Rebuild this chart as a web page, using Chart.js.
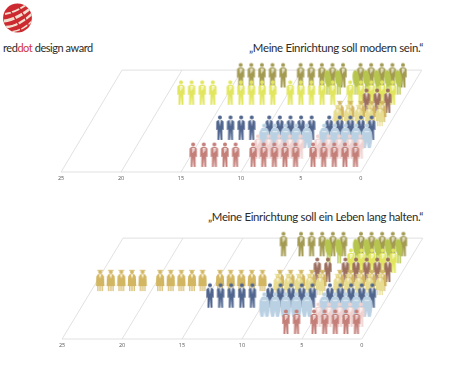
<!DOCTYPE html>
<html lang="de">
<head>
<meta charset="utf-8">
<title>reddot design award</title>
<script src="https://cdn.jsdelivr.net/npm/chart.js@4"></script>
<style>
  html, body { margin: 0; padding: 0; background: #fff; overflow: hidden; }
  body { width: 450px; height: 373px; position: relative; font-family: Lato, sans-serif; }
  canvas { position: absolute; }
  #modern { left: 0; top: 0; }
  #halten { left: 1px; top: 190px; }
  .title { position: absolute; right: 27px; color: #2b2b2b; font-size: 11.4px; letter-spacing: -0.31px; white-space: nowrap; }
  #brand { position: absolute; left: 3px; top: 41px; color: #2b2b2b; font-size: 11px; letter-spacing: -0.45px; white-space: nowrap; }
  #brand span { color: #d5323a; }
  #logo { position: absolute; left: 3px; top: 3px; }
</style>
</head>
<body>
<svg id="logo" width="30" height="30" viewBox="0 0 30 30">
  <defs><clipPath id="ball"><circle cx="14.5" cy="15" r="14.4"/></clipPath></defs>
  <circle cx="14.5" cy="15" r="14.4" fill="#cc2a30"/>
  <g clip-path="url(#ball)" fill="none" stroke="#f0dfcf" stroke-width="2">
    <path d="M2 11 C9 10 17 6 23 2"/>
    <path d="M1 18 C10 17 21 11 28 5" stroke-width="2.8"/>
    <path d="M3 24 C11 24 22 18 30 10" stroke-width="2.4"/>
    <path d="M8 29 C15 28 24 24 30 17" stroke-width="1.6"/>
    <path d="M5 4 C9 10 16 20 19 30" stroke="#cc2a30" stroke-width="1.4"/>
    <path d="M14 1 C18 8 24 16 26 25" stroke="#cc2a30" stroke-width="1.4"/>
  </g>
</svg>
<div id="brand">red<span>dot</span> design award</div>
<div class="title" style="top:41px">„Meine Einrichtung soll modern sein.“</div>
<div class="title" style="top:210px">„Meine Einrichtung soll ein Leben lang halten.“</div>
<canvas id="modern" width="450" height="186"></canvas>
<canvas id="halten" width="450" height="163"></canvas>
<script>
// rows run front to back, Chart.js paints the first dataset last
const rows = ['rot', 'rosa', 'hellblau', 'blau', 'hellgelb', 'gold', 'braun', 'gelb', 'gruen', 'oliv'];
const modernCounts = [15, 10, 10, 14, 5, 5, 3, 19, 7, 15];
const haltenCounts = [7, 5, 10, 15, 10, 25, 7, 5, 7, 11];
const modernDepth = [0.05, 0.13, 0.235, 0.315, 0.45, 0.49, 0.58, 0.66, 0.76, 0.83];
const haltenDepth = [0.05, 0.12, 0.22, 0.31, 0.435, 0.475, 0.565, 0.655, 0.75, 0.82];
const tickLabels = [0, 5, 10, 15, 20, 25];

const rowColors = ['#c47f79', '#f0d3d1', '#bad1e3', '#51668f', '#e7dc90', '#d2b662', '#9c6f5f', '#e2e65e', '#b6c54d', '#a49b52'];
const rowShapes = ['slim', 'slim', 'wide', 'suit', 'dress', 'dress', 'suit', 'slim', 'blob', 'slim'];

const SKEW = 5.08;      // floor shift in x units from front to back
const PER_GROUP = 5;
const FIGURE_STEP = 0.885;
const EDGE_GAP = 0.7;

function poly(c, pts) {
  c.beginPath();
  pts.forEach((p, i) => i ? c.lineTo(p[0], p[1]) : c.moveTo(p[0], p[1]));
  c.closePath();
  c.fill();
}

// the canvas is twice the figure height, so the feet sit on the data point
function figure(shape, color) {
  const cv = document.createElement('canvas');
  cv.width = 16;
  cv.height = 52;
  const c = cv.getContext('2d');
  const x = 8, t = 1;
  c.fillStyle = color;
  if (shape === 'dress') {
    c.beginPath(); c.arc(x, t + 6, 1.9, 0, 7); c.fill();
    c.fillRect(x - 2.8, t + 3.8, 5.6, 1);
    poly(c, [[x - 2.2, t + 8], [x + 2.2, t + 8], [x + 3.8, t + 10.5], [x + 4.3, t + 20], [x - 4.3, t + 20], [x - 3.8, t + 10.5]]);
    c.fillRect(x - 2.8, t + 20, 1.2, 5);
    c.fillRect(x - 0.6, t + 20, 1.2, 5);
    c.fillRect(x + 1.6, t + 20, 1.2, 5);
    c.fillStyle = '#f7f0d6';
    poly(c, [[x - 1.4, t + 8.3], [x + 1.4, t + 8.3], [x, t + 12.5]]);
  } else if (shape === 'wide') {
    c.beginPath(); c.arc(x, t + 2.6, 2.2, 0, 7); c.fill();
    poly(c, [[x - 2.8, t + 5], [x + 2.8, t + 5], [x + 5, t + 9], [x + 5.3, t + 18], [x + 4, t + 25], [x + 0.9, t + 25], [x, t + 19], [x - 0.9, t + 25], [x - 4, t + 25], [x - 5.3, t + 18], [x - 5, t + 9]]);
    c.fillStyle = 'rgba(255,255,255,0.55)';
    c.fillRect(x - 2.4, t + 8, 4.8, 1.2);
  } else if (shape === 'blob') {
    c.beginPath(); c.ellipse(x - 0.3, t + 9, 3.4, 8.5, -0.12, 0, 7); c.fill();
    c.fillRect(x - 1.8, t + 15, 1.4, 10);
    c.fillRect(x + 0.5, t + 15, 1.4, 10);
  } else {
    c.beginPath(); c.arc(x, t + 2.4, 2, 0, 7); c.fill();
    poly(c, [[x - 1.8, t + 5], [x + 1.8, t + 5], [x + 3.6, t + 6.6], [x + 3.7, t + 15], [x + 2.8, t + 15], [x + 2.4, t + 14], [x + 2.5, t + 25], [x + 0.6, t + 25], [x, t + 16], [x - 0.6, t + 25], [x - 2.5, t + 25], [x - 2.4, t + 14], [x - 2.8, t + 15], [x - 3.7, t + 15], [x - 3.6, t + 6.6]]);
    c.fillStyle = '#fff';
    if (shape === 'suit') {
      poly(c, [[x - 1.4, t + 5.2], [x + 1.4, t + 5.2], [x, t + 11]]);
      c.fillStyle = color;
      c.fillRect(x - 0.4, t + 6, 0.8, 4);
    } else {
      poly(c, [[x - 1.2, t + 6], [x + 1.5, t + 6], [x + 1.3, t + 9], [x - 1, t + 11]]);
      c.fillStyle = color;
      c.fillRect(x - 0.4, t + 6.4, 0.8, 4);
    }
  }
  return cv;
}

// figures fill each group of five from the right
function rowPoints(count, depth) {
  const pts = [];
  for (let i = 0; i < count; i++) {
    const group = Math.floor(i / PER_GROUP);
    const slot = i % PER_GROUP;
    pts.push({ x: group * PER_GROUP + slot * FIGURE_STEP + EDGE_GAP - depth * SKEW, y: depth });
  }
  return pts;
}

const floorGrid = {
  id: 'floorGrid',
  beforeDatasetsDraw(chart) {
    const { ctx, scales: { x, y } } = chart;
    const first = tickLabels[0];
    const last = tickLabels[tickLabels.length - 1];
    const line = (x0, y0, x1, y1) => {
      ctx.beginPath();
      ctx.moveTo(x.getPixelForValue(x0), y.getPixelForValue(y0));
      ctx.lineTo(x.getPixelForValue(x1), y.getPixelForValue(y1));
      ctx.stroke();
    };
    ctx.save();
    ctx.strokeStyle = '#d9d9d9';
    ctx.lineWidth = 0.8;
    tickLabels.forEach(t => line(t, 0, t - SKEW, 1));
    line(first, 0, last, 0);
    line(first - SKEW, 1, last - SKEW, 1);
    ctx.restore();
  }
};

function makeChart(id, counts, depths, depthMax) {
  new Chart(document.getElementById(id), {
    type: 'scatter',
    plugins: [floorGrid],
    data: {
      datasets: rows.map((name, i) => ({
        label: name,
        data: rowPoints(counts[i], depths[i]),
        pointStyle: figure(rowShapes[i], rowColors[i]),
        pointRadius: 0.2,
        pointHoverRadius: 0.2,
        pointBorderWidth: 0,
        pointHoverBorderWidth: 0,
        clip: false
      }))
    },
    options: {
      responsive: false,
      animation: false,
      events: [],
      layout: { padding: 0 },
      plugins: { legend: { display: false }, tooltip: { enabled: false } },
      scales: {
        x: {
          type: 'linear',
          reverse: true,
          min: -7.42,
          max: 30.08,
          grid: { display: false, drawTicks: false },
          border: { display: false },
          afterBuildTicks: s => { s.ticks = tickLabels.map(v => ({ value: v })); },
          afterFit: s => { s.height = 14; s.paddingLeft = 0; s.paddingRight = 0; },
          ticks: {
            autoSkip: false,
            maxRotation: 0,
            padding: 3,
            color: '#555',
            font: { family: 'Open Sans', size: 5.5 }
          }
        },
        y: { display: false, min: 0, max: depthMax }
      }
    }
  });
}

makeChart('modern', modernCounts, modernDepth, 172 / 102);
makeChart('halten', haltenCounts, haltenDepth, 149 / 101);
</script>
</body>
</html>
